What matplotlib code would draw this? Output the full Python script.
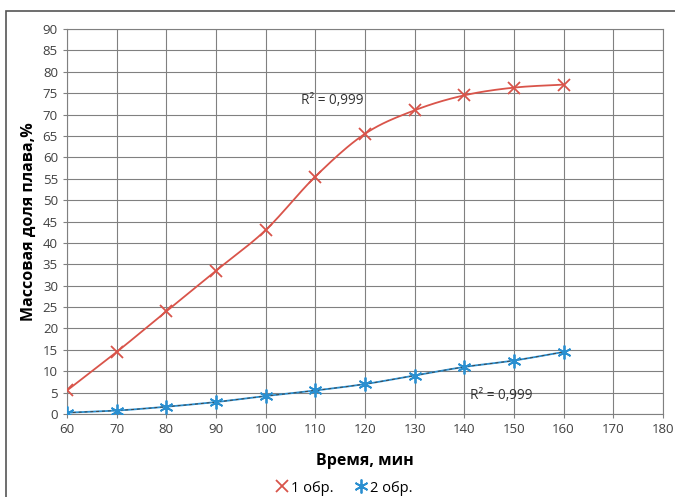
import numpy as np
import matplotlib.pyplot as plt
from matplotlib.patches import Rectangle

# time, min
time = [60, 70, 80, 90, 100, 110, 120, 130, 140, 150, 160]
# mass fraction of melt, %
obr1 = [5.5, 14.5, 24.0, 33.5, 43.0, 55.5, 65.5, 71.0, 74.5, 76.3, 77.0]
obr2 = [0.3, 0.8, 1.7, 2.8, 4.2, 5.5, 7.0, 9.0, 11.0, 12.5, 14.5]

plt.rcParams['font.family'] = ['Open Sans', 'DejaVu Sans']


def smooth(x, y, n=20):
    # Catmull-Rom curve through the points (like Excel's smoothed line)
    x = np.asarray(x, float)
    y = np.asarray(y, float)
    px = np.concatenate([[x[0]], x, [x[-1]]])
    py = np.concatenate([[y[0]], y, [y[-1]]])
    t = np.linspace(0, 1, n)[:, None]
    out_x, out_y = [], []
    for i in range(1, len(px) - 2):
        for p, out in ((px, out_x), (py, out_y)):
            p0, p1, p2, p3 = p[i - 1], p[i], p[i + 1], p[i + 2]
            c = 0.5 * (2 * p1 + (-p0 + p2) * t + (2 * p0 - 5 * p1 + 4 * p2 - p3) * t ** 2
                       + (-p0 + 3 * p1 - 3 * p2 + p3) * t ** 3)
            out.append(c.ravel())
    return np.concatenate(out_x), np.concatenate(out_y)


fig = plt.figure(figsize=(6.75, 4.97), dpi=100)
ax = fig.add_axes([0.0993, 0.167, 0.8827, 0.7746])

red = '#d9544a'
blue = '#2a8fd0'

sx1, sy1 = smooth(time, obr1)
sx2, sy2 = smooth(time, obr2)
ax.plot(sx1, sy1, color=red, lw=1.3, zorder=3)
ax.plot(sx2, sy2, color=blue, lw=1.3, zorder=3)
ax.plot(sx2, sy2, color='#444444', lw=0.7, ls=(0, (3, 3)), zorder=3)

ax.plot(time, obr1, ls='none', marker='x', ms=9, mew=1.3, color=red, label='1 обр.', zorder=4)
ax.plot(time, obr2, ls='none', marker=(6, 2, 0), ms=10, mew=1.3, color=blue, label='2 обр.', zorder=4)

ax.text(113.5, 71.5, 'R² = 0,999', fontsize=9.8, color='#333333', ha='center', va='bottom')
ax.text(147.5, 4.3, 'R² = 0,999', fontsize=9.8, color='#333333', ha='center', va='center')

ax.set_xlim(60, 180)
ax.set_ylim(0, 90)
ax.set_xticks(range(60, 181, 10))
ax.set_yticks(range(0, 91, 5))
ax.grid(True, color='#808080', lw=0.8)
ax.set_axisbelow(True)
for s in ax.spines.values():
    s.set_color('#808080')
    s.set_linewidth(0.8)
ax.tick_params(colors='#808080', labelcolor='#404040', labelsize=9.5, length=3)

ax.set_xlabel('Время, мин', fontsize=11.5, fontweight='bold', labelpad=12)
ax.set_ylabel('Массовая доля плава,%', fontsize=11.5, fontweight='bold', labelpad=4)

fig.legend(loc='center', bbox_to_anchor=(0.51, 0.018), ncol=2, frameon=False,
           fontsize=10.5, handlelength=0.8, handletextpad=0.2, columnspacing=1.5)

fig.add_artist(Rectangle((6 / 675, -0.1), 1.2, 1 - 11 / 497 + 0.1, transform=fig.transFigure,
                         fill=False, ec='#555555', lw=1.2))

fig.savefig('out.png', dpi=100)
